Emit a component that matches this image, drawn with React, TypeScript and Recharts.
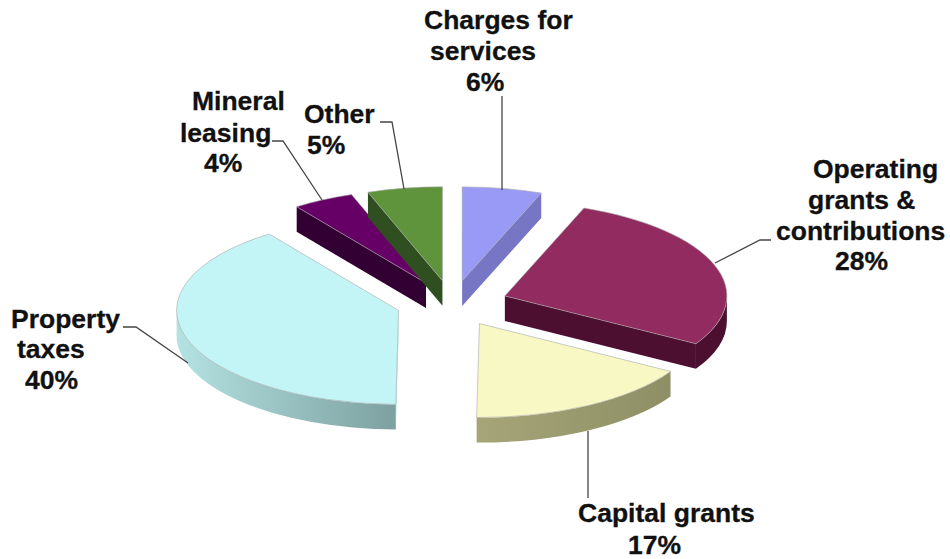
import React from 'react'
import { PieChart, Pie, Cell } from 'recharts'

const categories = ['Charges for services', 'Operating grants & contributions', 'Capital grants', 'Property taxes', 'Mineral leasing', 'Other']
const values = [5.8, 27.7, 16.7, 39.9, 4.45, 5.45]
const percentLabels = ['6%', '28%', '17%', '40%', '4%', '5%']
const nameLines = [['Charges for', 'services'], ['Operating', 'grants &', 'contributions'], ['Capital grants'], ['Property', 'taxes'], ['Mineral', 'leasing'], ['Other']]

const topColors = ['#9999f6', '#922c60', '#f8f8c4', '#c4f5f6', '#660066', '#5f943c']
const sideColors = ['#7676c4', '#4c0f30', '#8f8f66', '#b4e2e2', '#330033', '#2f4f20']
const sideEndColors = ['#7676c4', '#4c0f30', '#a5a578', '#7da0a0', '#330033', '#2f4f20']

const data = categories.map((name, i) => ({ name, value: values[i] }))

const WIDTH = 950
const HEIGHT = 559
const CX = 452
const CY = 303.5
const RX = 222
const RY = 94
const BLOW_X = 56
const BLOW_Y = 23
const DEPTH = 25

// left edge and baseline of every label line, in page pixels
const lineSpots = [
  [[424, 29], [430, 60], [466, 91]],
  [[813, 178], [808, 209], [776, 240], [835, 270]],
  [[578, 522], [628, 554]],
  [[11, 328], [17, 358], [25, 389]],
  [[192, 110], [180, 142], [204, 172]],
  [[304, 123], [307, 154]],
]
const leaders = [
  '502,96 502,190',
  '771,240 760,240 715,263',
  '588,431 588,498',
  '123,327 136,327 188,363',
  '272,141 283,141 322,200',
  '380,122 392,122 404,189',
]

// clockwise from top in degrees, recharts gives counter clockwise from 3 o'clock
const toClock = (deg: number) => 90 - deg

function Slice3D(props: any) {
  const { startAngle, endAngle, index, fill } = props
  const a1 = toClock(startAngle)
  const a2 = toClock(endAngle)
  const mid = ((a1 + a2) / 2) * Math.PI / 180
  const ax = CX + BLOW_X * Math.sin(mid)
  const ay = CY - BLOW_Y * Math.cos(mid)
  const pt = (deg: number, dz = 0) => {
    const r = deg * Math.PI / 180
    return [ax + RX * Math.sin(r), ay - RY * Math.cos(r) + dz]
  }
  const arc = (from: number, to: number, dz: number, sweep: number) => {
    const p = pt(to, dz)
    const large = Math.abs(to - from) > 180 ? 1 : 0
    return `A${RX},${RY} 0 ${large} ${sweep} ${p[0]},${p[1]}`
  }
  const s = pt(a1)
  const top = `M${ax},${ay} L${s[0]},${s[1]} ${arc(a1, a2, 0, 1)} Z`
  const wall = (deg: number) => {
    const p = pt(deg)
    return `M${ax},${ay} L${p[0]},${p[1]} L${p[0]},${p[1] + DEPTH} L${ax},${ay + DEPTH} Z`
  }
  const showStart = Math.sin(a1 * Math.PI / 180) < -0.001
  const showEnd = Math.sin(a2 * Math.PI / 180) > 0.001
  const from = Math.max(a1, 90)
  const to = Math.min(a2, 270)
  let rim = null
  if (to > from) {
    const p = pt(from)
    const q = pt(to, DEPTH)
    rim = `M${p[0]},${p[1]} ${arc(from, to, 0, 1)} L${q[0]},${q[1]} ${arc(to, from, DEPTH, 0)} Z`
  }
  const gradId = `side-${index}`
  return (
    <g>
      <defs>
        <linearGradient id={gradId} x1="0" y1="0" x2="1" y2="0">
          <stop offset="0" stopColor={index === 3 ? sideColors[index] : sideEndColors[index]} />
          <stop offset="1" stopColor={index === 3 ? sideEndColors[index] : sideColors[index]} />
        </linearGradient>
      </defs>
      {showStart && <path d={wall(a1)} fill={sideColors[index]} />}
      {showEnd && <path d={wall(a2)} fill={sideColors[index]} />}
      {rim && <path d={rim} fill={`url(#${gradId})`} />}
      <path d={top} fill={fill} stroke="#a8a8a8" strokeOpacity={0.6} strokeWidth={1} />
    </g>
  )
}

function SliceLabel(props: any) {
  const { index } = props
  const lines = [...nameLines[index], percentLabels[index]]
  return (
    <g>
      <polyline points={leaders[index]} fill="none" stroke="#444" strokeWidth={1.3} />
      {lines.map((line, i) => (
        <text
          key={i}
          x={lineSpots[index][i][0]}
          y={lineSpots[index][i][1]}
          fontFamily="Liberation Sans"
          fontWeight="bold"
          fontSize={26.5}
          fill="#111"
          stroke="#111"
          strokeWidth={0.3}
        >
          {line}
        </text>
      ))}
    </g>
  )
}

export default function App() {
  return (
    <div style={{ position: 'absolute', left: 0, top: 0, width: WIDTH, height: HEIGHT }}>
      <PieChart width={WIDTH} height={HEIGHT} margin={{ top: 0, right: 0, bottom: 0, left: 0 }}>
        <Pie
          data={data}
          dataKey="value"
          nameKey="name"
          cx={CX}
          cy={CY}
          outerRadius={RX}
          startAngle={90}
          endAngle={-270}
          stroke="none"
          shape={Slice3D}
          label={SliceLabel}
          labelLine={false}
          isAnimationActive={false}
        >
          {data.map((d, i) => (
            <Cell key={d.name} fill={topColors[i]} />
          ))}
        </Pie>
      </PieChart>
    </div>
  )
}
